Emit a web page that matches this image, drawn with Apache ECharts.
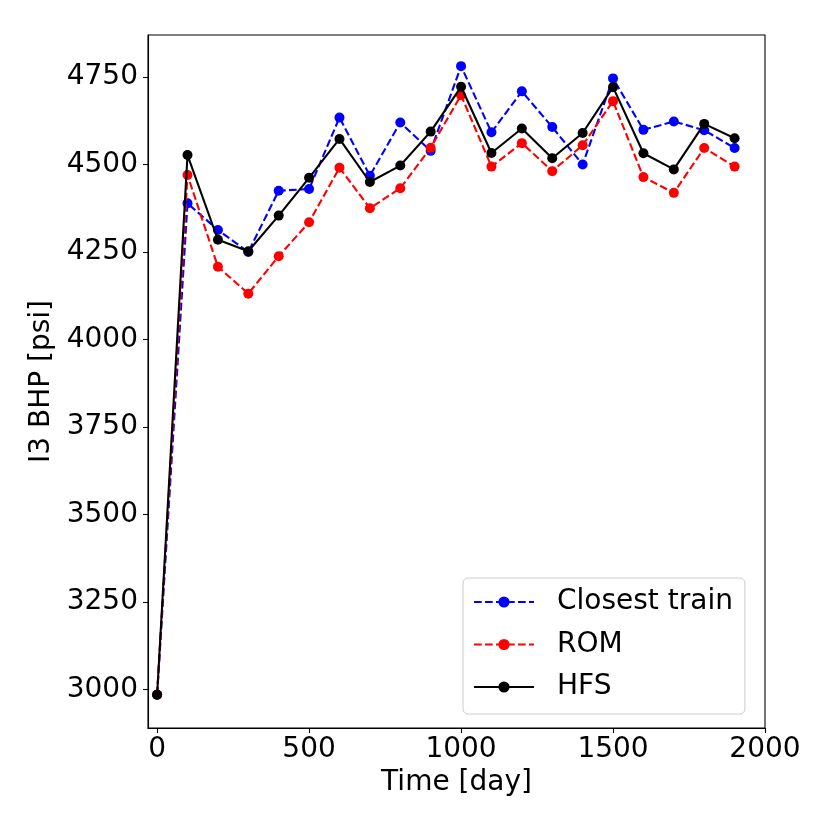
<!DOCTYPE html>
<html>
<head>
<meta charset="utf-8">
<script src="https://cdn.jsdelivr.net/npm/echarts@6/dist/echarts.min.js"></script>
<style>
  html, body { margin: 0; padding: 0; background: #fff; }
  #chart { width: 830px; height: 830px; }
</style>
</head>
<body>
<div id="chart"></div>
<script>
const days = [0, 100, 200, 300, 400, 500, 600, 700, 800, 900,
  1000, 1100, 1200, 1300, 1400, 1500, 1600, 1700, 1800, 1900];
const closestTrain = [2985, 4389, 4313, 4250, 4425, 4430, 4634, 4468, 4620, 4539,
  4781, 4592, 4709, 4607, 4500, 4746, 4599, 4623, 4598, 4547];
const rom = [2985, 4470, 4208, 4131, 4238, 4335, 4491, 4375, 4432, 4548,
  4698, 4494, 4561, 4481, 4555, 4681, 4464, 4419, 4547, 4494];
const hfs = [2985, 4527, 4285, 4252, 4354, 4462, 4573, 4450, 4497, 4594,
  4722, 4533, 4603, 4518, 4590, 4721, 4532, 4486, 4616, 4575];
const xTicks = [0, 500, 1000, 1500, 2000];
const yTicks = [3000, 3250, 3500, 3750, 4000, 4250, 4500, 4750];

const FONT = 'DejaVu Sans';
const pairs = (ys) => days.map((d, i) => [d, ys[i]]);
const plain = (v) => String(v);

const chart = echarts.init(document.getElementById('chart'), null, { renderer: 'canvas' });

function line(name, ys, color, dashed, z) {
  return {
    name,
    type: 'line',
    data: pairs(ys),
    symbol: 'circle',
    symbolSize: 10,
    z,
    itemStyle: { color },
    lineStyle: { color, width: 2.1, type: dashed ? [7.7, 3.3] : 'solid' },
    emphasis: { disabled: true },
    animation: false
  };
}

chart.setOption({
  animation: false,
  grid: {
    left: 148, right: 65, top: 35, bottom: 102,
    show: true, borderColor: '#000', borderWidth: 1.1, backgroundColor: '#fff'
  },
  xAxis: {
    type: 'value',
    min: -30, max: 2000,
    name: 'Time [day]',
    nameLocation: 'middle',
    nameGap: 41,
    nameTextStyle: { fontFamily: FONT, fontSize: 28, color: '#000' },
    axisLine: { show: true, onZero: false, lineStyle: { color: '#000', width: 1.1 } },
    axisTick: { show: true, length: 5, customValues: xTicks, lineStyle: { color: '#000', width: 1.1 } },
    axisLabel: { customValues: xTicks, formatter: plain, margin: 8, fontFamily: FONT, fontSize: 28, color: '#000' },
    splitLine: { show: false }
  },
  yAxis: {
    type: 'value',
    min: 2890, max: 4870,
    name: 'I3 BHP [psi]',
    nameLocation: 'middle',
    nameGap: 84,
    nameTextStyle: { fontFamily: FONT, fontSize: 28, color: '#000' },
    axisLine: { show: true, onZero: false, lineStyle: { color: '#000', width: 1.1 } },
    axisTick: { show: true, length: 5, customValues: yTicks, lineStyle: { color: '#000', width: 1.1 } },
    axisLabel: { customValues: yTicks, formatter: plain, margin: 10, fontFamily: FONT, fontSize: 28, color: '#000' },
    splitLine: { show: false }
  },
  legend: {
    orient: 'vertical',
    left: 463, top: 578,
    padding: [10, 12, 13, 10],
    itemWidth: 60,
    itemHeight: 14,
    itemGap: 14.5,
    backgroundColor: 'rgba(255,255,255,0.8)',
    borderColor: '#ccc',
    borderWidth: 1,
    borderRadius: 5,
    textStyle: { fontFamily: FONT, fontSize: 28, lineHeight: 28, color: '#000', padding: [0, 0, 0, 18] },
    data: ['Closest train', 'ROM', 'HFS']
  },
  series: [
    line('Closest train', closestTrain, '#0000ff', true, 2),
    line('ROM', rom, '#ff0000', true, 3),
    line('HFS', hfs, '#000000', false, 4)
  ]
});
</script>
</body>
</html>
